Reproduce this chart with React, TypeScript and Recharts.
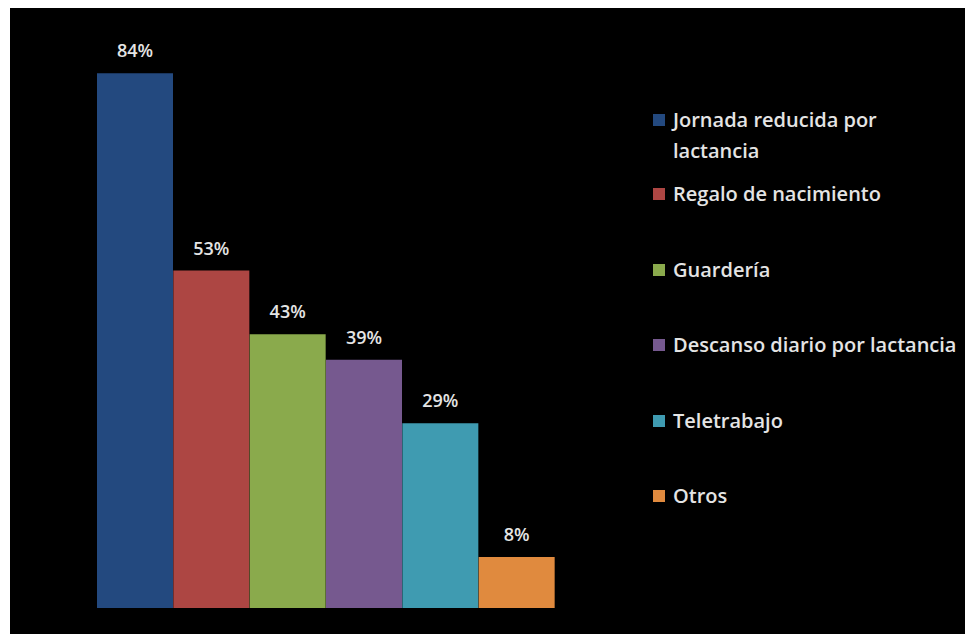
import React from 'react';
import { BarChart, Bar, XAxis, YAxis, Cell, LabelList } from 'recharts';

const categories = [
  'Jornada reducida por lactancia',
  'Regalo de nacimiento',
  'Guardería',
  'Descanso diario por lactancia',
  'Teletrabajo',
  'Otros'
];
const values = [84, 53, 43, 39, 29, 8];
const colors = ['#23497f', '#ad4643', '#8aaa4c', '#76598f', '#3f9bb1', '#e08a3e'];

const data = categories.map((name, i) => ({ name, value: values[i] }));

const FONT = '"Open Sans", sans-serif';

const App: React.FC = () => {
  return (
    <div
      style={{
        position: 'relative',
        width: 963,
        height: 626,
        marginLeft: 2,
        background: '#000',
        fontFamily: FONT
      }}
    >
      <BarChart
        width={963}
        height={626}
        data={data}
        margin={{ top: 27, right: 418, bottom: 26, left: 87 }}
        barCategoryGap={0}
      >
        <XAxis dataKey="name" hide />
        <YAxis hide domain={[0, 90]} />
        <Bar dataKey="value" isAnimationActive={false}>
          {data.map((entry, index) => (
            <Cell key={`cell-${index}`} fill={colors[index]} />
          ))}
          <LabelList
            dataKey="value"
            position="top"
            offset={16}
            formatter={(v: any) => `${v}%`}
            fill="#e4e4e4"
            fontSize={18}
            fontWeight={600}
            fontFamily={FONT}
          />
        </Bar>
      </BarChart>

      {/* Legend */}
      <div style={{ position: 'absolute', left: 643, top: 96, width: 320 }}>
        {categories.map((name, i) => (
          <div
            key={name}
            style={{
              height: i === 0 ? 74 : 75.5,
              display: 'flex',
              alignItems: 'flex-start',
              color: '#e4e4e4',
              fontSize: 20,
              fontWeight: 600,
              lineHeight: '31px'
            }}
          >
            <span
              style={{
                display: 'inline-block',
                width: 12,
                height: 12,
                background: colors[i],
                marginTop: 10,
                marginRight: 8,
                flexShrink: 0
              }}
            />
            <span style={{ maxWidth: i === 0 ? 240 : 310, whiteSpace: i === 0 ? 'normal' : 'nowrap' }}>
              {name}
            </span>
          </div>
        ))}
      </div>
    </div>
  );
};

export default App;
